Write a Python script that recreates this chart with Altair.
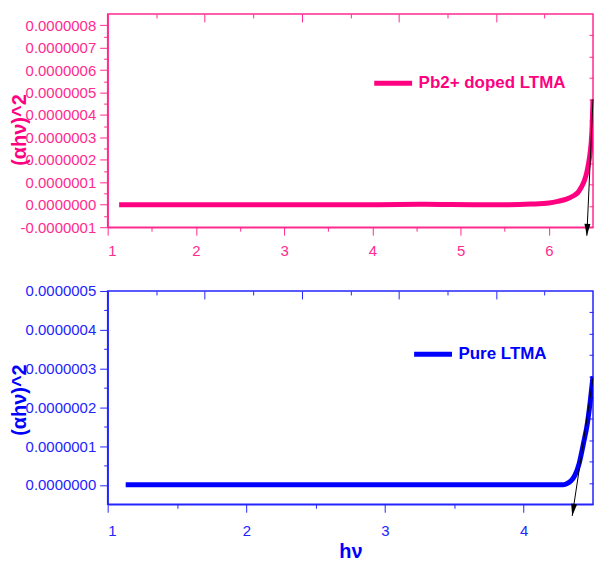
import altair as alt
import pandas as pd

# ---------------- data ----------------
doped_name = "Pb2+ doped LTMA"
doped_x = [1.13, 1.5, 2.0, 2.5, 3.0, 3.5, 4.0, 4.3, 4.6, 4.9, 5.2, 5.5, 5.8, 6.0, 6.1, 6.2, 6.28, 6.33,
           6.37, 6.4, 6.43, 6.45, 6.47, 6.48, 6.49, 6.5]
doped_y_e7 = [0.0, 0.0, 0.0, 0.0, 0.0, 0.0, 0.0, 0.01, 0.02, 0.01, 0.0, 0.0, 0.03, 0.08, 0.15, 0.25, 0.4, 0.55,
              0.8, 1.05, 1.45, 1.85, 2.4, 2.8, 3.5, 4.7]

pure_name = "Pure LTMA"
pure_x = [1.13, 1.5, 2.0, 2.5, 3.0, 3.5, 4.0, 4.2, 4.28, 4.31, 4.34, 4.37, 4.40, 4.43, 4.46, 4.48, 4.5]
pure_y_e7 = [0.0, 0.0, 0.0, 0.0, 0.0, 0.0, 0.0, 0.0, 0.0, 0.03, 0.1, 0.25, 0.55, 1.05, 1.6, 2.15, 2.8]

# tangent (extrapolation) arrows: start -> tip
doped_arrow = {"x0": [6.5], "y0": [4.7e-7], "x1": [6.43], "y1": [-1.38e-7]}
pure_arrow = {"x0": [4.5], "y0": [2.75e-7], "x1": [4.35], "y1": [-0.8e-7]}

# tick values
top_x_major = [1, 2, 3, 4, 5, 6]
top_x_minor = [1.5, 2.5, 3.5, 4.5, 5.5]
top_y_major = [k * 1e-7 for k in range(-1, 9)]
top_y_minor = [(k + 0.5) * 1e-7 for k in range(-1, 8)]
top_xt_major = [2.1, 3.2, 4.3, 5.4]
top_xt_minor = [1.55, 2.65, 3.75, 4.85, 5.95]
top_yr = [-1e-7 + k * 0.95e-7 for k in range(1, 10)]

bot_x_major = [1, 2, 3, 4]
bot_x_minor = [1.5, 2.5, 3.5]
bot_y_major = [k * 1e-7 for k in range(0, 6)]
bot_y_minor = [(k + 0.5) * 1e-7 for k in range(0, 5)]
bot_xt_major = [1.7, 2.4, 3.1, 3.8]
bot_xt_minor = [1.35, 2.05, 2.75, 3.45, 4.15]
bot_yr = [-0.5e-7 + k * 0.55e-7 for k in range(1, 10)]

PINK = "#ff0080"
PINK_AX = "#ff2b8f"
BLUE = "#0000ff"
BLUE_AX = "#2424ff"
FONT = "Liberation Sans"
LABEL_EXPR = "replace(format(datum.value, '.7f'), '\u2212', '-')"
PW = 487
PH = 214


def panel(xs, ys_e7, name, arrow, color, axcolor, xdom, ydom,
          xmaj, xmin, ymaj, ymin, xtmaj, xtmin, yr, leg_xy, angle,
          ytitle_y, xtitle, xlabpad):
    df = pd.DataFrame({"x": xs, "y": [v * 1e-7 for v in ys_e7], "series": name})
    adf = pd.DataFrame(arrow)
    xs_ = alt.Scale(domain=xdom, nice=False, zero=False)
    ys_ = alt.Scale(domain=ydom, nice=False, zero=False)
    base = alt.Chart(df)

    x_axis_kw = dict(orient="bottom", values=xmaj, tickSize=8, tickColor=axcolor, domainColor=axcolor,
                     domainWidth=1.5, labelColor=axcolor, labelFont=FONT, labelFontSize=15,
                     labelPadding=xlabpad, grid=False, format="d")
    if xtitle:
        x_axis_kw.update(title=xtitle, titleColor=BLUE, titleFont=FONT, titleFontSize=20,
                         titleFontWeight="bold", titleY=47, titleBaseline="middle")
    else:
        x_axis_kw.update(title=None)

    main = base.mark_line(strokeWidth=5, interpolate="monotone", clip=True).encode(
        x=alt.X("x:Q", scale=xs_, axis=alt.Axis(**x_axis_kw)),
        y=alt.Y("y:Q", scale=ys_, axis=alt.Axis(
            orient="left", values=ymaj, tickSize=8, tickColor=axcolor, domainColor=axcolor,
            domainWidth=1.5, labelColor=axcolor, labelFont=FONT, labelFontSize=15,
            labelPadding=4, labelExpr=LABEL_EXPR, grid=False,
            title="(\u03b1h\u03bd)^2", titleColor=color,
            titleFont=FONT, titleFontSize=20, titleFontWeight="bold",
            titleX=-88, titleY=ytitle_y, titleAngle=270, titleAlign="center",
            titleBaseline="middle")),
        color=alt.Color("series:N", scale=alt.Scale(domain=[name], range=[color]),
                        legend=alt.Legend(orient="none", legendX=leg_xy[0], legendY=leg_xy[1],
                                          title=None, symbolType="stroke", symbolStrokeWidth=5,
                                          symbolSize=1444, labelFont=FONT, labelFontSize=17,
                                          labelFontWeight="bold", labelColor=color,
                                          labelOffset=4, padding=0)),
    )

    nox = dict(labels=False, domain=False, grid=False, title=None, minExtent=0, maxExtent=0)

    minor = base.mark_line(opacity=0, clip=True).encode(
        x=alt.X("x:Q", scale=xs_, axis=alt.Axis(orient="bottom", values=xmin, tickSize=4,
                                                 tickColor=axcolor, **nox)),
        y=alt.Y("y:Q", scale=ys_, axis=alt.Axis(orient="left", values=ymin, tickSize=4,
                                                 tickColor=axcolor, **nox)),
    )

    mirror = base.mark_line(opacity=0, clip=True).encode(
        x=alt.X("x:Q", scale=xs_, axis=alt.Axis(orient="top", values=xtmaj, tickSize=8, offset=-8,
                                                 tickColor=axcolor, **nox)),
        y=alt.Y("y:Q", scale=ys_, axis=alt.Axis(orient="right", values=yr, tickSize=4, offset=-4,
                                                 tickColor=axcolor, **nox)),
    )

    mirror2 = base.mark_line(opacity=0, clip=True).encode(
        x=alt.X("x:Q", scale=xs_, axis=alt.Axis(orient="top", values=xtmin, tickSize=4, offset=-4,
                                                 tickColor=axcolor, **nox)),
        y=alt.Y("y:Q", scale=ys_, axis=None),
    )

    arrow_line = alt.Chart(adf).mark_rule(color="black", strokeWidth=1).encode(
        x=alt.X("x0:Q", scale=xs_, axis=None), x2="x1:Q",
        y=alt.Y("y0:Q", scale=ys_, axis=None), y2="y1:Q",
    )
    arrow_head = alt.Chart(adf).mark_point(shape="M0,0L-0.25,-1L0.25,-1Z", filled=True,
                                            color="black", opacity=1, size=576, angle=angle).encode(
        x=alt.X("x1:Q", scale=xs_, axis=None),
        y=alt.Y("y1:Q", scale=ys_, axis=None),
    )

    return alt.layer(mirror, mirror2, minor, main, arrow_line, arrow_head).resolve_axis(
        x="independent", y="independent"
    ).properties(
        width=PW, height=PH,
        view=alt.ViewBackground(stroke=axcolor, strokeWidth=1.5),
    )


top = panel(doped_x, doped_y_e7, doped_name, doped_arrow, PINK, PINK_AX, [1, 6.5], [-1e-7, 8.5e-7],
            top_x_major, top_x_minor, top_y_major, top_y_minor, top_xt_major, top_xt_minor, top_yr,
            (265, 48), 2.9, 116, None, 8)
bottom = panel(pure_x, pure_y_e7, pure_name, pure_arrow, BLUE, BLUE_AX, [1, 4.5], [-0.5e-7, 5e-7],
               bot_x_major, bot_x_minor, bot_y_major, bot_y_minor, bot_xt_major, bot_xt_minor, bot_yr,
               (305, 42), 9.1, 109, "h\u03bd", 11)

chart = alt.vconcat(top, bottom, spacing=24).resolve_scale(color="independent").properties(
    padding={"left": 1, "top": 3, "right": 0, "bottom": 0}
).configure_axis(grid=False)

chart.save("out.html", embed_options={"renderer": "svg", "actions": False})
